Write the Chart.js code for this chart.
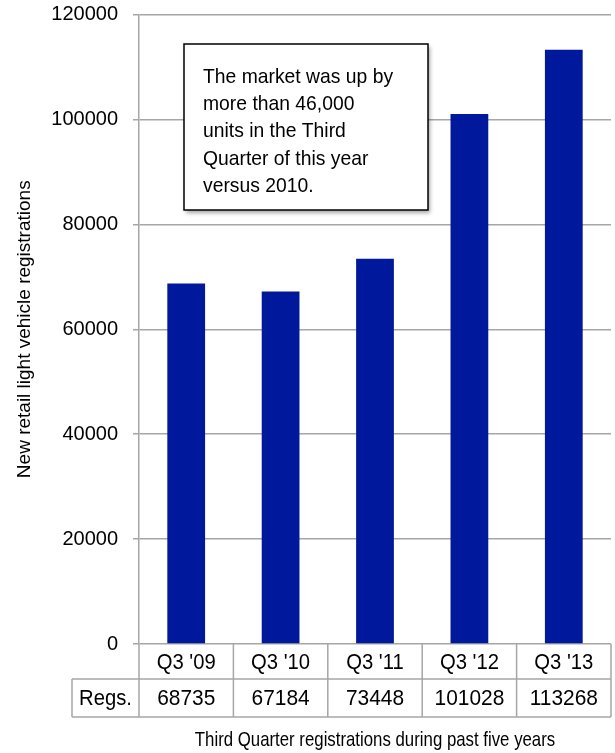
<!DOCTYPE html>
<html>
<head>
<meta charset="utf-8">
<script src="https://cdn.jsdelivr.net/npm/chart.js@4.4.0/dist/chart.umd.min.js"></script>
<style>
  html, body { margin: 0; padding: 0; background: #fff; }
  #wrap { width: 615px; height: 753px; }
</style>
</head>
<body>
<div id="wrap"><canvas id="regChart"></canvas></div>
<script>
// Data
const quarters = ["Q3 '09", "Q3 '10", "Q3 '11", "Q3 '12", "Q3 '13"];
const registrations = [68735, 67184, 73448, 101028, 113268];
const rowLabel = "Regs.";
const noteLines = [
  "The market was up by",
  "more than 46,000",
  "units in the Third",
  "Quarter of this year",
  "versus 2010."
];
const yTitle = "New retail light vehicle registrations";
const xTitle = "Third Quarter registrations during past five years";

const gridGray = "#a6a6a6";
const sans = "'Liberation Sans', sans-serif";

// draw text squeezed horizontally (the original uses a condensed face)
function narrowText(ctx, text, x, y, squeeze) {
  ctx.save();
  ctx.translate(x, y);
  ctx.scale(squeeze, 1);
  ctx.fillText(text, 0, 0);
  ctx.restore();
}

// Data table under the x axis, axis title and the note box
const tablePlugin = {
  id: "regsTable",
  afterDraw(chart) {
    const ctx = chart.ctx;
    const x = chart.scales.x;
    const area = chart.chartArea;
    const half = (x.getPixelForValue(1) - x.getPixelForValue(0)) / 2;
    const top = area.bottom, mid = top + 35, bot = mid + 38;
    const leftCell = 72;

    ctx.save();
    ctx.strokeStyle = gridGray;
    ctx.lineWidth = 1.5;
    ctx.beginPath();
    for (let i = 0; i <= quarters.length; i++) {
      const px = (i < quarters.length ? x.getPixelForValue(i) - half : x.getPixelForValue(i - 1) + half);
      ctx.moveTo(px, top);
      ctx.lineTo(px, bot);
    }
    ctx.moveTo(leftCell, mid); ctx.lineTo(area.right, mid);
    ctx.moveTo(leftCell, bot); ctx.lineTo(area.right, bot);
    ctx.moveTo(leftCell, mid); ctx.lineTo(leftCell, bot);
    ctx.stroke();

    ctx.fillStyle = "#000";
    ctx.textAlign = "center";
    ctx.textBaseline = "middle";
    ctx.font = "22px " + sans;
    quarters.forEach((q, i) => {
      const cx = x.getPixelForValue(i);
      narrowText(ctx, q, cx, (top + mid) / 2 + 1, 0.92);
      narrowText(ctx, String(registrations[i]), cx, (mid + bot) / 2 + 1, 0.95);
    });
    narrowText(ctx, rowLabel, (leftCell + area.left) / 2, (mid + bot) / 2 + 1, 0.92);

    ctx.font = "21px " + sans;
    narrowText(ctx, xTitle, (area.left + area.right) / 2, 740, 0.8);

    // Annotation box
    const bx = 184, by = 44, bw = 244, bh = 166;
    ctx.save();
    ctx.shadowColor = "rgba(0,0,0,0.35)";
    ctx.shadowBlur = 4;
    ctx.shadowOffsetX = 2;
    ctx.shadowOffsetY = 3;
    ctx.fillStyle = "#fff";
    ctx.fillRect(bx, by, bw, bh);
    ctx.restore();
    ctx.strokeStyle = "#000";
    ctx.lineWidth = 1.5;
    ctx.strokeRect(bx, by, bw, bh);
    ctx.fillStyle = "#000";
    ctx.textAlign = "left";
    ctx.font = "21px " + sans;
    noteLines.forEach((line, i) => {
      narrowText(ctx, line, 203, 77 + i * 27.3, 0.92);
    });
    ctx.restore();
  }
};

const ctx = document.getElementById("regChart").getContext("2d");
new Chart(ctx, {
  type: "bar",
  data: {
    labels: quarters,
    datasets: [{
      data: registrations,
      backgroundColor: "#00189b",
      barPercentage: 0.4,
      categoryPercentage: 1.0
    }]
  },
  options: {
    responsive: true,
    maintainAspectRatio: false,
    animation: false,
    layout: { padding: { top: 14.5, right: 4, bottom: 109, left: 0 } },
    plugins: { legend: { display: false }, tooltip: { enabled: false } },
    scales: {
      x: { display: false },
      y: {
        min: 0,
        max: 120000,
        afterFit: s => { s.width = 139; s.paddingTop = 0; s.paddingBottom = 0; },
        ticks: {
          stepSize: 20000,
          color: "#000",
          padding: 15,
          callback: v => String(v),
          font: { family: sans, size: 20 }
        },
        grid: { color: gridGray, lineWidth: 1.5, tickLength: 6 },
        border: { color: gridGray, width: 1.5 },
        title: {
          display: true,
          text: yTitle,
          color: "#000",
          padding: { top: 13, bottom: 0 },
          font: { family: sans, size: 19 }
        }
      }
    }
  },
  plugins: [tablePlugin]
});
</script>
</body>
</html>
